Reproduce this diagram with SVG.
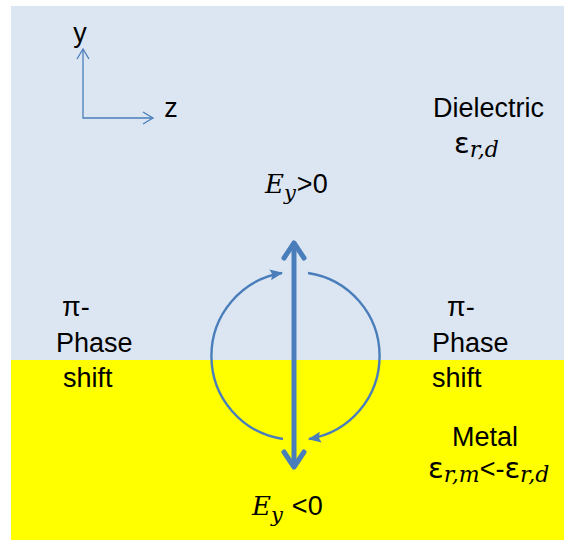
<svg xmlns="http://www.w3.org/2000/svg" width="564" height="540" viewBox="0 0 564 540">
<style>
.t{font-family:"Liberation Sans",Arial,sans-serif;font-size:27px;fill:#000}
.e{font-family:"DejaVu Sans",sans-serif;font-size:29px}
.m{font-family:"DejaVu Serif","Liberation Serif",serif;font-style:italic;fill:#000}
.ax{stroke:#4a7ebb;stroke-width:1.3;fill:none}
.arc{stroke:#4a7ebb;stroke-width:2.4;fill:none}
.big{stroke:#4a7ebb;stroke-width:5;fill:none;stroke-linecap:round;stroke-linejoin:round}
</style>
<defs>
<marker id="arcah" viewBox="0 0 12 10" refX="11" refY="5" markerWidth="13" markerHeight="11" orient="auto" markerUnits="userSpaceOnUse">
<path d="M0,0 L12,5 L0,10 L2,5 Z" fill="#4a7ebb"/>
</marker>
</defs>
<g id="background">
<rect x="11" y="6" width="553" height="354" fill="#dce6f2"/>
<rect x="11" y="360" width="553" height="180" fill="#ffff00"/>
</g>
<g id="axes">
<path class="ax" d="M83,49 L83,118 L153,118"/>
<path class="ax" d="M77,59 L83,49 L89,59"/>
<path class="ax" d="M143,112 L153,118 L143,124"/>
<text class="t" x="80" y="42" text-anchor="middle" font-size="24">y</text>
<text class="t" x="171" y="117" text-anchor="middle" font-size="24">z</text>
</g>
<g id="dielectric">
<text class="t" x="433" y="117">Dielectric</text>
<text class="t" x="454" y="153"><tspan class="e">ε</tspan><tspan class="m" font-size="22" dy="4">r,d</tspan></text>
</g>
<g id="ey-pos">
<text x="265" y="193"><tspan class="m" font-size="26">E</tspan><tspan class="m" font-size="21" dy="7">y</tspan><tspan class="t" dx="1" dy="-7">&gt;0</tspan></text>
</g>
<g id="phase-left">
<text class="t" x="62" y="316">π-</text>
<text class="t" x="56" y="352">Phase</text>
<text class="t" x="63" y="387">shift</text>
</g>
<g id="phase-right">
<text class="t" x="447" y="316">π-</text>
<text class="t" x="432" y="352">Phase</text>
<text class="t" x="432" y="387">shift</text>
</g>
<g id="metal">
<text class="t" x="428" y="446" dx="24">Metal</text>
<text class="t" x="428" y="478"><tspan class="e">ε</tspan><tspan class="m" font-size="22" dy="4">r,m</tspan><tspan dy="-4">&lt;-</tspan><tspan class="e">ε</tspan><tspan class="m" font-size="22" dy="4">r,d</tspan></text>
</g>
<g id="ey-neg">
<text x="252" y="515"><tspan class="m" font-size="26">E</tspan><tspan class="m" font-size="21" dy="7">y</tspan><tspan class="t" dx="9" dy="-7">&lt;0</tspan></text>
</g>
<g id="connectors">
<path class="big" d="M294,244 L294,466"/>
<path class="big" d="M284,258 L294,243 L304,258"/>
<path class="big" d="M284,452 L294,467 L304,452"/>
<path class="arc" marker-end="url(#arcah)" d="M283,439 A84,84 0 0 1 282,273"/>
<path class="arc" marker-end="url(#arcah)" d="M308,273 A84,84 0 0 1 309,439"/>
</g>
</svg>
